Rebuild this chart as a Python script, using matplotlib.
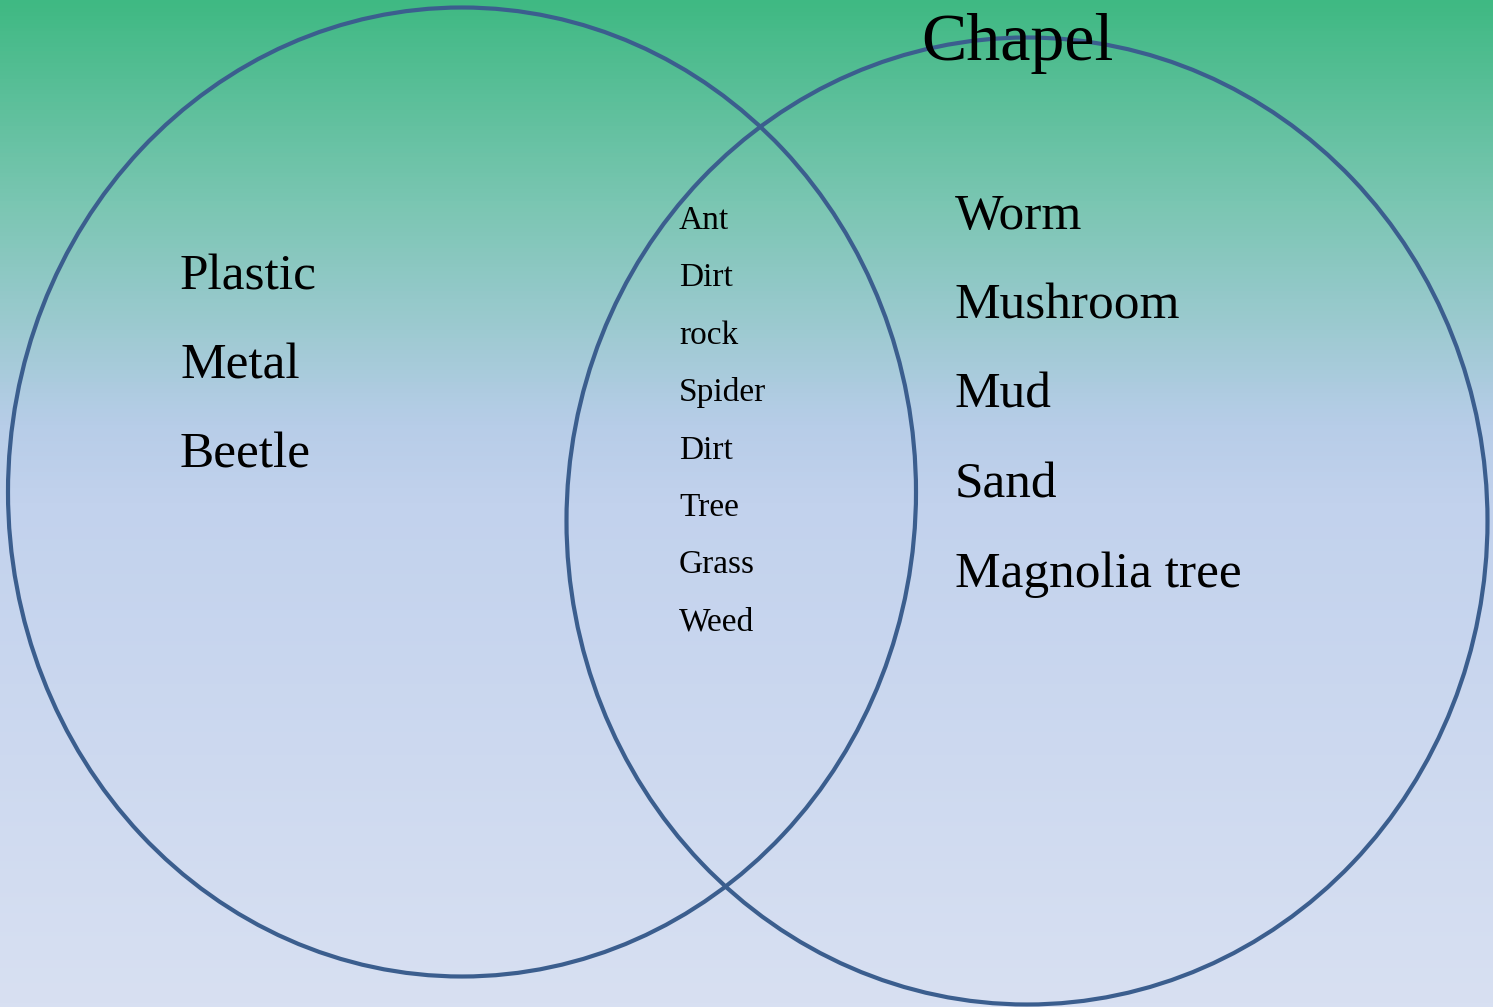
import numpy as np
import matplotlib.pyplot as plt
from matplotlib.patches import Ellipse
from matplotlib.colors import LinearSegmentedColormap

W, H = 1493, 1007

title = "Chapel"
left_items = ["Plastic", "Metal", "Beetle"]
middle_items = ["Ant", "Dirt", "rock", "Spider", "Dirt", "Tree", "Grass", "Weed"]
right_items = ["Worm", "Mushroom", "Mud", "Sand", "Magnolia tree"]

plt.rcParams['font.family'] = ['Liberation Serif', 'DejaVu Serif']

fig = plt.figure(figsize=(W / 100, H / 100), dpi=100)
ax = fig.add_axes([0, 0, 1, 1])
ax.set_xlim(0, W)
ax.set_ylim(H, 0)
ax.axis('off')

# background gradient, green at top to pale blue at bottom
cmap = LinearSegmentedColormap.from_list('bg', [
    (0.0, (63/255, 185/255, 131/255)),
    (0.2, (122/255, 198/255, 178/255)),
    (0.42, (183/255, 205/255, 232/255)),
    (0.5, (194/255, 210/255, 237/255)),
    (1.0, (216/255, 224/255, 242/255)),
])
grad = np.linspace(0, 1, 256).reshape(-1, 1)
ax.imshow(grad, cmap=cmap, extent=[0, W, H, 0], aspect='auto', zorder=0)

line_col = '#3b5e8e'
ax.add_patch(Ellipse((462, 492), 908, 969, fill=False, ec=line_col, lw=3, zorder=2))
ax.add_patch(Ellipse((1027, 521), 921, 967, fill=False, ec=line_col, lw=3, zorder=2))

ax.text(921, 60, title, fontsize=49, ha='left', va='baseline', zorder=3)

for i, s in enumerate(left_items):
    ax.text(180, 289 + i * 89.5, s, fontsize=37, ha='left', va='baseline', zorder=3)

for i, s in enumerate(middle_items):
    ax.text(679, 229 + i * 57.4, s, fontsize=24, ha='left', va='baseline', zorder=3)

for i, s in enumerate(right_items):
    ax.text(955, 229 + i * 89.5, s, fontsize=37, ha='left', va='baseline', zorder=3)

fig.savefig('out.png', dpi=100)
